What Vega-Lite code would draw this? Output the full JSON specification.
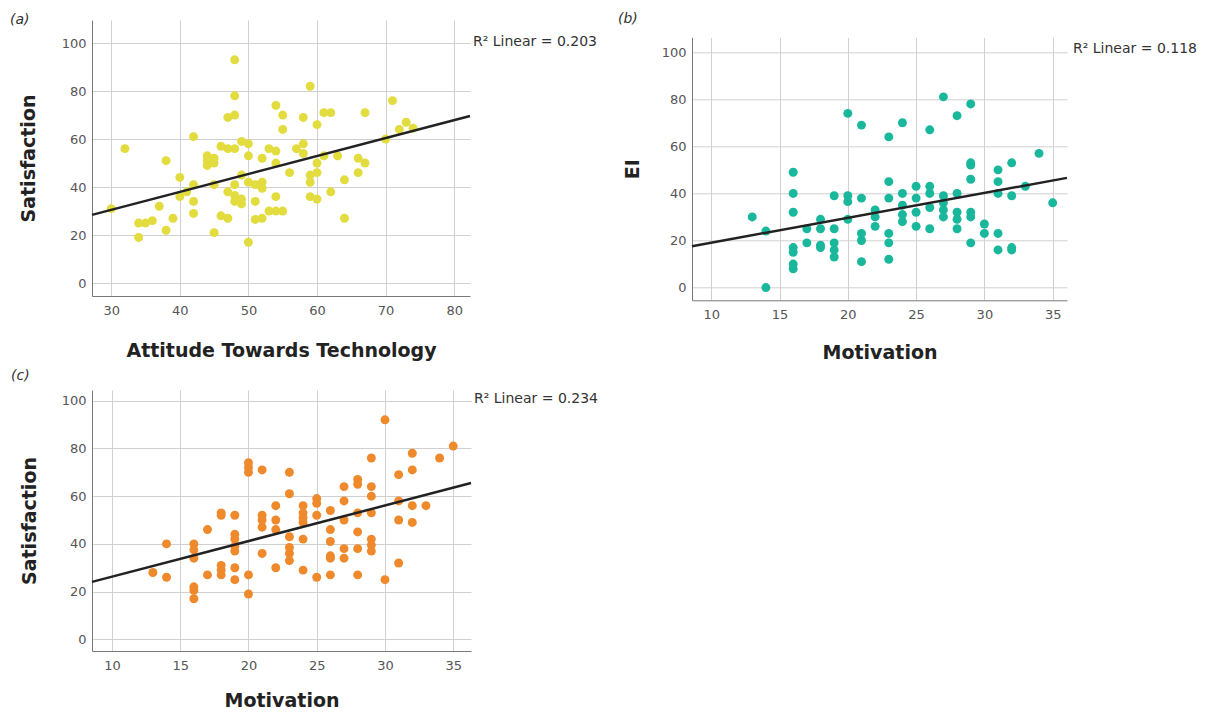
{
  "$schema": "https://vega.github.io/schema/vega-lite/v6.json",
  "background": "white",
  "padding": {"left": 10, "top": 11, "right": 0, "bottom": 0},
  "datasets": {
    "a_pts": [
      {"x":30,"y":31},{"x":32,"y":56},{"x":34,"y":19},{"x":34,"y":25},{"x":35,"y":25},{"x":36,"y":26},{"x":37,"y":32},{"x":38,"y":51},{"x":38,"y":22},{"x":39,"y":27},
      {"x":40,"y":44},{"x":40,"y":36},{"x":41,"y":38},{"x":42,"y":61},{"x":42,"y":41},{"x":42,"y":34},{"x":42,"y":29},{"x":44,"y":53},{"x":44,"y":51},{"x":44,"y":49},
      {"x":45,"y":52},{"x":45,"y":50},{"x":45,"y":41},{"x":45,"y":21},{"x":46,"y":57},{"x":46,"y":28},{"x":47,"y":69},{"x":47,"y":56},{"x":47,"y":38},{"x":47,"y":27},
      {"x":48,"y":93},{"x":48,"y":78},{"x":48,"y":70},{"x":48,"y":56},{"x":48,"y":41},{"x":48,"y":36.5},{"x":48,"y":34},{"x":49,"y":59},{"x":49,"y":45},{"x":49,"y":35},
      {"x":49,"y":33},{"x":50,"y":58},{"x":50,"y":53},{"x":50,"y":42},{"x":50,"y":17},{"x":51,"y":41},{"x":51,"y":34},{"x":51,"y":26.5},{"x":52,"y":52},{"x":52,"y":42},
      {"x":52,"y":39.5},{"x":52,"y":27},{"x":53,"y":56},{"x":53,"y":30},{"x":54,"y":74},{"x":54,"y":55},{"x":54,"y":50},{"x":54,"y":36},{"x":54,"y":30},{"x":55,"y":70},
      {"x":55,"y":64},{"x":55,"y":30},{"x":56,"y":46},{"x":57,"y":56},{"x":58,"y":69},{"x":58,"y":58},{"x":58,"y":54},{"x":59,"y":82},{"x":59,"y":45},{"x":59,"y":42},
      {"x":59,"y":36},{"x":60,"y":66},{"x":60,"y":50},{"x":60,"y":46},{"x":60,"y":35},{"x":61,"y":71},{"x":61,"y":53},{"x":62,"y":71},{"x":62,"y":38},{"x":63,"y":53},
      {"x":64,"y":43},{"x":64,"y":27},{"x":66,"y":52},{"x":66,"y":46},{"x":67,"y":71},{"x":67,"y":50},{"x":70,"y":60},{"x":71,"y":76},{"x":72,"y":64},{"x":73,"y":67},
      {"x":74,"y":64.5}
    ],
    "a_line": [{"x":27.2,"y":28.4},{"x":82.3,"y":69.6}],
    "a_lab": [{"t":"R² Linear = 0.203"}],
    "b_pts": [
      {"x":13,"y":30},{"x":14,"y":24},{"x":14,"y":0},{"x":16,"y":49},{"x":16,"y":40},{"x":16,"y":32},{"x":16,"y":17},{"x":16,"y":15},{"x":16,"y":10},{"x":16,"y":8},
      {"x":17,"y":25},{"x":17,"y":19},{"x":18,"y":29},{"x":18,"y":25},{"x":18,"y":18},{"x":18,"y":17},{"x":19,"y":39},{"x":19,"y":25},{"x":19,"y":19},{"x":19,"y":16},
      {"x":19,"y":13},{"x":20,"y":39},{"x":20,"y":36.5},{"x":20,"y":29},{"x":20,"y":74},{"x":21,"y":69},{"x":21,"y":38},{"x":21,"y":23},{"x":21,"y":20},{"x":21,"y":11},
      {"x":22,"y":33},{"x":22,"y":30},{"x":22,"y":26},{"x":23,"y":64},{"x":23,"y":45},{"x":23,"y":38},{"x":23,"y":23},{"x":23,"y":19},{"x":23,"y":12},{"x":24,"y":70},
      {"x":24,"y":40},{"x":24,"y":35},{"x":24,"y":31},{"x":24,"y":28},{"x":25,"y":43},{"x":25,"y":38},{"x":25,"y":32},{"x":25,"y":26},{"x":26,"y":67},{"x":26,"y":43},
      {"x":26,"y":40},{"x":26,"y":34},{"x":26,"y":25},{"x":27,"y":81},{"x":27,"y":39},{"x":27,"y":36},{"x":27,"y":33},{"x":27,"y":30},{"x":28,"y":73},{"x":28,"y":40},
      {"x":28,"y":32},{"x":28,"y":29},{"x":28,"y":25},{"x":29,"y":78},{"x":29,"y":53},{"x":29,"y":52},{"x":29,"y":46},{"x":29,"y":32},{"x":29,"y":30},{"x":29,"y":19},
      {"x":30,"y":27},{"x":30,"y":23},{"x":31,"y":50},{"x":31,"y":45},{"x":31,"y":40},{"x":31,"y":23},{"x":31,"y":16},{"x":32,"y":53},{"x":32,"y":39},{"x":32,"y":17},
      {"x":32,"y":16},{"x":33,"y":43},{"x":34,"y":57},{"x":35,"y":36}
    ],
    "b_line": [{"x":8.59,"y":17.6},{"x":36.05,"y":46.6}],
    "b_lab": [{"t":"R² Linear = 0.118"}],
    "c_pts": [
      {"x":13,"y":28},{"x":14,"y":40},{"x":14,"y":26},{"x":16,"y":40},{"x":16,"y":37.5},{"x":16,"y":34},{"x":16,"y":22},{"x":16,"y":20.5},{"x":16,"y":17},{"x":17,"y":46},
      {"x":17,"y":27},{"x":18,"y":53},{"x":18,"y":52},{"x":18,"y":31},{"x":18,"y":29},{"x":18,"y":27},{"x":19,"y":52},{"x":19,"y":44},{"x":19,"y":42},{"x":19,"y":39},
      {"x":19,"y":37},{"x":19,"y":30},{"x":19,"y":25},{"x":20,"y":74},{"x":20,"y":72},{"x":20,"y":70},{"x":20,"y":27},{"x":20,"y":19},{"x":21,"y":71},{"x":21,"y":52},
      {"x":21,"y":50},{"x":21,"y":47},{"x":21,"y":36},{"x":22,"y":56},{"x":22,"y":50},{"x":22,"y":46},{"x":22,"y":30},{"x":23,"y":70},{"x":23,"y":61},{"x":23,"y":43},
      {"x":23,"y":38.5},{"x":23,"y":36},{"x":23,"y":33},{"x":24,"y":56},{"x":24,"y":53},{"x":24,"y":51},{"x":24,"y":49},{"x":24,"y":42},{"x":24,"y":29},{"x":25,"y":59},
      {"x":25,"y":57},{"x":25,"y":52},{"x":25,"y":26},{"x":26,"y":54},{"x":26,"y":46},{"x":26,"y":41},{"x":26,"y":35},{"x":26,"y":34},{"x":26,"y":27},{"x":27,"y":64},
      {"x":27,"y":58},{"x":27,"y":50},{"x":27,"y":38},{"x":27,"y":34},{"x":28,"y":67},{"x":28,"y":65},{"x":28,"y":53},{"x":28,"y":45},{"x":28,"y":38},{"x":28,"y":27},
      {"x":29,"y":76},{"x":29,"y":64},{"x":29,"y":60},{"x":29,"y":53},{"x":29,"y":42},{"x":29,"y":39.5},{"x":29,"y":37},{"x":30,"y":92},{"x":30,"y":25},{"x":31,"y":69},
      {"x":31,"y":58},{"x":31,"y":50},{"x":31,"y":32},{"x":32,"y":78},{"x":32,"y":71},{"x":32,"y":56},{"x":32,"y":49},{"x":33,"y":56},{"x":34,"y":76},{"x":35,"y":81}
    ],
    "c_line": [{"x":8.54,"y":24.06},{"x":36.3,"y":65.5}],
    "c_lab": [{"t":"R² Linear = 0.234"}]
  },
  "config": {
    "view": {"stroke": null},
    "axis": {
      "grid": true, "gridColor": "#d0d0d0", "gridWidth": 1,
      "domainColor": "#7a7a7a", "domainWidth": 1, "ticks": false,
      "labelFont": "DejaVu Sans", "labelFontSize": 13, "labelColor": "#555555",
      "labelFlush": false, "labelOverlap": false,
      "titleFont": "DejaVu Sans", "titleFontSize": 19, "titleFontWeight": "bold", "titleColor": "#222222"
    },
    "axisX": {"labelPadding": 8, "titlePadding": 22},
    "axisY": {"labelPadding": 6, "titlePadding": 19},
    "title": {"font": "DejaVu Sans", "fontSize": 14, "fontStyle": "italic", "fontWeight": "normal", "color": "#333333", "anchor": "start", "frame": "group"}
  },
  "spacing": 19,
  "hconcat": [
    {
      "spacing": 8,
      "vconcat": [
        {
          "width": 378, "height": 276,
          "title": {"text": "(a)", "dx": -82, "offset": -6.5},
          "layer": [
            {"data": {"name": "a_pts"}, "mark": {"type": "circle", "size": 80, "opacity": 1, "color": "#e2dc3f"},
             "encoding": {
               "x": {"field": "x", "type": "quantitative", "scale": {"domain": [27.2, 82.3], "nice": false, "zero": false},
                     "axis": {"title": "Attitude Towards Technology", "values": [30, 40, 50, 60, 70, 80], "titlePadding": 24}},
               "y": {"field": "y", "type": "quantitative", "scale": {"domain": [-5.4, 109.6], "nice": false, "zero": false},
                     "axis": {"title": "Satisfaction", "values": [0, 20, 40, 60, 80, 100], "titlePadding": 23}}
             }},
            {"data": {"name": "a_line"}, "mark": {"type": "line", "color": "#222222", "strokeWidth": 2.5},
             "encoding": {"x": {"field": "x", "type": "quantitative"}, "y": {"field": "y", "type": "quantitative"}}},
            {"data": {"name": "a_lab"},
             "mark": {"type": "text", "clip": false, "align": "left", "baseline": "middle", "dx": 3, "font": "DejaVu Sans", "fontSize": 14, "color": "#333333"},
             "encoding": {"x": {"datum": 82.3, "type": "quantitative"}, "y": {"datum": 100.4, "type": "quantitative"}, "text": {"field": "t", "type": "nominal"}}}
          ]
        },
        {
          "width": 379, "height": 261,
          "title": {"text": "(c)", "dx": -81, "offset": 7.3},
          "layer": [
            {"data": {"name": "c_pts"}, "mark": {"type": "circle", "size": 80, "opacity": 1, "color": "#ef8a2c"},
             "encoding": {
               "x": {"field": "x", "type": "quantitative", "scale": {"domain": [8.54, 36.3], "nice": false, "zero": false},
                     "axis": {"title": "Motivation", "values": [10, 15, 20, 25, 30, 35], "titlePadding": 19}},
               "y": {"field": "y", "type": "quantitative", "scale": {"domain": [-4.9, 104.5], "nice": false, "zero": false},
                     "axis": {"title": "Satisfaction", "values": [0, 20, 40, 60, 80, 100], "titlePadding": 22}}
             }},
            {"data": {"name": "c_line"}, "mark": {"type": "line", "color": "#222222", "strokeWidth": 2.5},
             "encoding": {"x": {"field": "x", "type": "quantitative"}, "y": {"field": "y", "type": "quantitative"}}},
            {"data": {"name": "c_lab"},
             "mark": {"type": "text", "clip": false, "align": "left", "baseline": "middle", "dx": 3, "font": "DejaVu Sans", "fontSize": 14, "color": "#333333"},
             "encoding": {"x": {"datum": 36.3, "type": "quantitative"}, "y": {"datum": 100.7, "type": "quantitative"}, "text": {"field": "t", "type": "nominal"}}}
          ]
        }
      ]
    },
    {
      "spacing": 7.3,
      "vconcat": [
        {
          "width": 375, "height": 10,
          "title": {"text": "(b)", "dx": -74, "offset": -5.5},
          "data": {"values": []},
          "mark": "point",
          "encoding": {}
        },
        {
          "width": 375, "height": 263,
          "layer": [
            {"data": {"name": "b_pts"}, "mark": {"type": "circle", "size": 80, "opacity": 1, "color": "#19b79c"},
             "encoding": {
               "x": {"field": "x", "type": "quantitative", "scale": {"domain": [8.59, 36.05], "nice": false, "zero": false},
                     "axis": {"title": "Motivation", "values": [10, 15, 20, 25, 30, 35]}},
               "y": {"field": "y", "type": "quantitative", "scale": {"domain": [-5.4, 106.3], "nice": false, "zero": false},
                     "axis": {"title": "EI", "values": [0, 20, 40, 60, 80, 100]}}
             }},
            {"data": {"name": "b_line"}, "mark": {"type": "line", "color": "#222222", "strokeWidth": 2.5},
             "encoding": {"x": {"field": "x", "type": "quantitative"}, "y": {"field": "y", "type": "quantitative"}}},
            {"data": {"name": "b_lab"},
             "mark": {"type": "text", "clip": false, "align": "left", "baseline": "middle", "dx": 6, "font": "DejaVu Sans", "fontSize": 14, "color": "#333333"},
             "encoding": {"x": {"datum": 36.05, "type": "quantitative"}, "y": {"datum": 101.2, "type": "quantitative"}, "text": {"field": "t", "type": "nominal"}}}
          ]
        }
      ]
    }
  ]
}
